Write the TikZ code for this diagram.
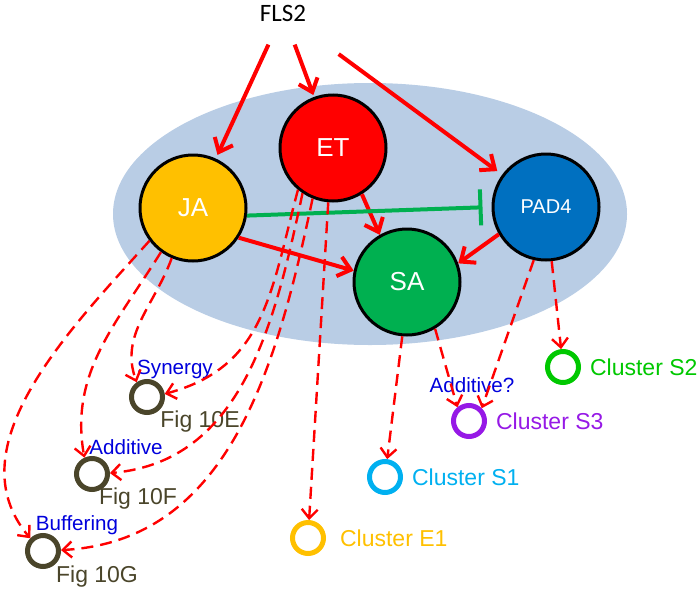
\documentclass[tikz,border=0pt]{standalone}
\usepackage{fontspec}
\setmainfont{Liberation Sans}
\newfontfamily\calibfont{Carlito}
\usetikzlibrary{arrows.meta,positioning}
\definecolor{cellblue}{RGB}{185,205,229}
\definecolor{jaorange}{RGB}{255,192,0}
\definecolor{etred}{RGB}{255,0,0}
\definecolor{padblue}{RGB}{0,112,192}
\definecolor{sagreen}{RGB}{0,176,80}
\definecolor{figolive}{RGB}{74,69,42}
\definecolor{eone}{RGB}{255,192,0}
\definecolor{sone}{RGB}{0,176,240}
\definecolor{sthree}{RGB}{150,25,230}
\definecolor{stwo}{RGB}{0,200,0}
\definecolor{noteblue}{RGB}{0,0,220}
\begin{document}
\begin{tikzpicture}[x=0.5pt,y=0.5pt,
	hub/.style={circle,draw=black,line width=1.5pt,minimum size=53pt,inner sep=0pt,text=white,font=\fontsize{13}{15}\selectfont},
	ring/.style={circle,line width=2.5pt,minimum size=15.5pt,inner sep=0pt},
	act/.style={draw=etred,line width=2pt,-{Straight Barb[length=6pt,width=10pt]}},
	dsh/.style={draw=etred,line width=1.2pt,dash pattern=on 6pt off 3.5pt,-{Straight Barb[length=4.5pt,width=8pt]}},
	figtxt/.style={text=figolive,font=\fontsize{11.5}{13}\selectfont},
	ctxt/.style={font=\fontsize{11.5}{13}\selectfont},
	note/.style={text=noteblue,font=\fontsize{10.3}{12}\selectfont,inner sep=0pt}]
			\useasboundingbox (0,0) rectangle (700,-594);
			\fill[cellblue] (370,-214) ellipse [x radius=128.5pt, y radius=65.5pt];
			\node[font=\calibfont\fontsize{12.5}{14}\selectfont,inner xsep=12pt,inner ysep=11.5pt] (fls) at (283,-13) {FLS2};
			\node[hub,fill=jaorange] (ja) at (193,-208) {JA};
			\node[hub,fill=etred] (et) at (333,-148) {ET};
			\node[hub,fill=padblue,font=\fontsize{10}{12}\selectfont] (pad4) at (546,-207) {PAD4};
			\node[hub,fill=sagreen] (sa) at (407,-282) {SA};
			% rings
			\node[ring,draw=figolive] (f10e) at (147,-397) {};
			\node[ring,draw=figolive] (f10f) at (92,-474) {};
			\node[ring,draw=figolive] (f10g) at (43,-551) {};
			\node[ring,draw=eone] (e1) at (308,-538) {};
			\node[ring,draw=sone] (s1) at (385,-477) {};
			\node[ring,draw=sthree] (s3) at (469,-421) {};
			\node[ring,draw=stwo] (s2) at (563,-367) {};
			\node[figtxt] (f10etxt) at (200,-422) {Fig 10E};
			\node[figtxt] (f10ftxt) at (138,-499) {Fig 10F};
			\node[figtxt] (f10gtxt) at (97,-577) {Fig 10G};
			\node[ctxt,text=eone,right=3.5pt of e1] (e1txt) {Cluster E1};
			\node[ctxt,text=sone,right=1pt of s1] (s1txt) {Cluster S1};
			\node[ctxt,text=sthree,right=1pt of s3] (s3txt) {Cluster S3};
			\node[ctxt,text=stwo,right=1pt of s2] (s2txt) {Cluster S2};
			\node[note] (syn) at (175,-369) {Synergy};
			\node[note] (add) at (126,-447) {Additive};
			\node[note] (buf) at (77,-525) {Buffering};
			\node[note] (addq) at (472,-385) {Additive?};
			% solid arrows
			\draw[act,shorten >=2pt] (fls) -- (ja);
			\draw[act,shorten >=1pt] (fls) -- (et);
			\draw[act,shorten <=8pt,shorten >=3pt] (fls) -- (pad4);
			\draw[act] (et.-58) -- (sa.120);
			\draw[act] (ja.-33) -- (sa.168);
			\draw[act] (pad4.210) -- (sa.20);
			\draw[draw=sagreen,line width=2pt,-{Bar[width=18pt]},shorten >=4.5pt] (ja.-8) -- (pad4.west);
			% dashed arrows
			\draw[dsh] (ja.247) to[out=250,in=110] (f10e.125);
			\draw[dsh] (ja.234) to[out=238,in=100] (f10f.115);
			\draw[dsh] (ja.217) to[out=228,in=130,looseness=0.95] (f10g.135);
			\draw[dsh] (et.230) to[out=255,in=15,looseness=1.1] (f10e.10);
			\draw[dsh] (et.236) to[out=258,in=5] (f10f.3);
			\draw[dsh] (et.248) to[out=258,in=3] (f10g.3);
			\draw[dsh] (et.265) -- (e1);
			\draw[dsh] (sa.265) -- (s1);
			\draw[dsh] (sa.301) -- (s3.130);
			\draw[dsh] (pad4.257) -- (s3.45);
			\draw[dsh] (pad4.276) -- (s2);
\end{tikzpicture}
\end{document}
